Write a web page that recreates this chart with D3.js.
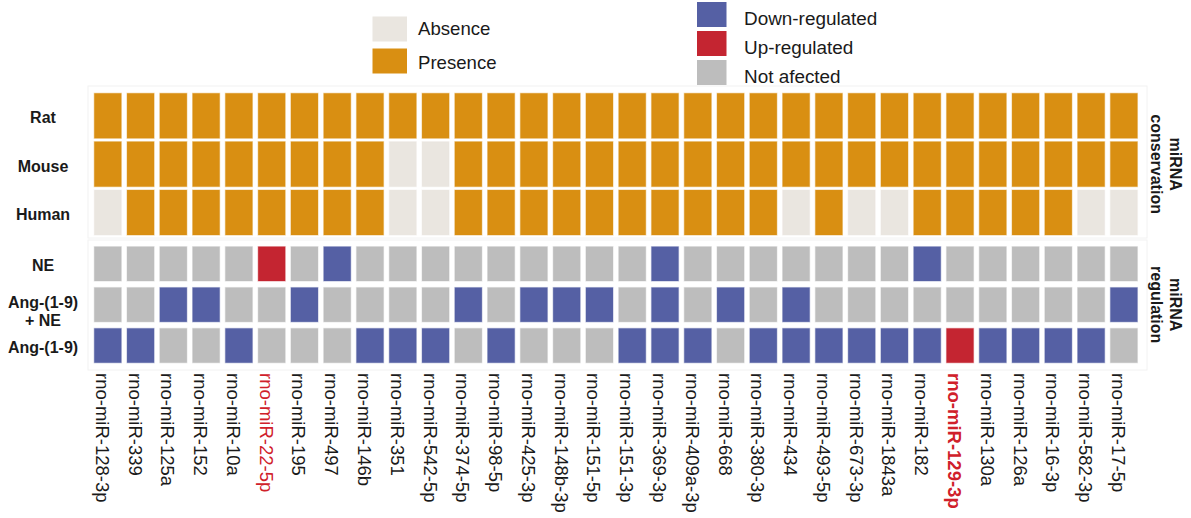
<!DOCTYPE html>
<html>
<head>
<meta charset="utf-8">
<script src="https://cdn.jsdelivr.net/npm/d3@7/dist/d3.min.js"></script>
<style>
  html, body { margin: 0; padding: 0; background: #fff; }
  svg { display: block; font-family: "Liberation Sans", Arial, sans-serif; }
</style>
</head>
<body>
<svg id="chart" width="1191" height="518"></svg>
<script>
// miRNAs shown as columns
const miRNAs = [
  "rno-miR-128-3p", "rno-miR-339", "rno-miR-125a", "rno-miR-152", "rno-miR-10a",
  "rno-miR-22-5p", "rno-miR-195", "rno-miR-497", "rno-miR-146b", "rno-miR-351",
  "rno-miR-542-5p", "rno-miR-374-5p", "rno-miR-98-5p", "rno-miR-425-3p", "rno-miR-148b-3p",
  "rno-miR-151-5p", "rno-miR-151-3p", "rno-miR-369-3p", "rno-miR-409a-3p", "rno-miR-668",
  "rno-miR-380-3p", "rno-miR-434", "rno-miR-493-5p", "rno-miR-673-3p", "rno-miR-1843a",
  "rno-miR-182", "rno-miR-129-3p", "rno-miR-130a", "rno-miR-126a", "rno-miR-16-3p",
  "rno-miR-582-3p", "rno-miR-17-5p"
];
const redLabels = ["rno-miR-22-5p", "rno-miR-129-3p"];
const boldLabels = ["rno-miR-129-3p"];

// Conservation: 1 = presence, 0 = absence
const species = ["Rat", "Mouse", "Human"];
const rat   = [1,1,1,1,1,1,1,1,1,1,1,1,1,1,1,1,1,1,1,1,1,1,1,1,1,1,1,1,1,1,1,1];
const mouse = [1,1,1,1,1,1,1,1,1,0,0,1,1,1,1,1,1,1,1,1,1,1,1,1,1,1,1,1,1,1,1,1];
const human = [0,1,1,1,1,1,1,1,1,0,0,1,1,1,1,1,1,1,1,1,1,0,1,0,0,1,1,1,1,1,0,0];

// Regulation: D = down-regulated, U = up-regulated, N = not affected
const treatments = ["NE", "Ang-(1-9) + NE", "Ang-(1-9)"];
const ne    = ["N","N","N","N","N","U","N","D","N","N","N","N","N","N","N","N","N","D","N","N","N","N","N","N","N","D","N","N","N","N","N","N"];
const angNe = ["N","N","D","D","N","N","D","N","N","N","N","D","N","D","D","D","N","D","N","D","N","D","N","N","N","N","N","N","N","N","N","D"];
const ang   = ["D","D","N","N","D","N","N","N","D","D","D","N","D","N","N","N","D","D","D","N","D","D","D","D","D","D","U","D","D","D","D","N"];

const conservationKeys = [0, 1];
const conservationNames = ["Absence", "Presence"];
const regulationKeys = ["D", "U", "N"];
const regulationNames = ["Down-regulated", "Up-regulated", "Not afected"];

const conservationColor = d3.scaleOrdinal().domain(conservationKeys).range(["#EAE6E0", "#D98F12"]);
const regulationColor = d3.scaleOrdinal().domain(regulationKeys).range(["#5560A4", "#C42531", "#BDBDBD"]);

const svg = d3.select("#chart");

const x = d3.scaleBand().domain(miRNAs).range([91.4, 1140.3]).paddingInner(0.175).paddingOuter(0.0875);
const yCons = d3.scaleBand().domain(species).range([91.6, 236.7]).paddingInner(0.07).paddingOuter(0.035);
const yReg = d3.scaleBand().domain(treatments).range([243.4, 366]).paddingInner(0.16).paddingOuter(0.08);

// faint panel frames
svg.append("rect").attr("x", 88).attr("y", 86).attr("width", 1059).attr("height", 152)
  .attr("fill", "none").attr("stroke", "#f2f2f2");
svg.append("rect").attr("x", 88).attr("y", 240).attr("width", 1059).attr("height", 130)
  .attr("fill", "none").attr("stroke", "#f2f2f2");

// conservation cells
const consRows = [rat, mouse, human];
const consData = [];
species.forEach((s, i) => consRows[i].forEach((v, j) => consData.push({ row: s, col: miRNAs[j], v })));
svg.append("g").selectAll("rect").data(consData).join("rect")
  .attr("x", d => x(d.col)).attr("y", d => yCons(d.row))
  .attr("width", x.bandwidth()).attr("height", yCons.bandwidth())
  .attr("fill", d => conservationColor(d.v))
  .attr("stroke", d => conservationColor(d.v)).attr("stroke-opacity", 0.35).attr("stroke-width", 1.2);

// regulation cells
const regRows = [ne, angNe, ang];
const regData = [];
treatments.forEach((t, i) => regRows[i].forEach((v, j) => regData.push({ row: t, col: miRNAs[j], v })));
svg.append("g").selectAll("rect").data(regData).join("rect")
  .attr("x", d => x(d.col)).attr("y", d => yReg(d.row))
  .attr("width", x.bandwidth()).attr("height", yReg.bandwidth())
  .attr("fill", d => regulationColor(d.v))
  .attr("stroke", d => regulationColor(d.v)).attr("stroke-opacity", 0.35).attr("stroke-width", 1.2);

// row labels
const rowLabel = svg.append("g").attr("font-weight", "bold").attr("font-size", 16)
  .attr("fill", "#1a1a1a").attr("text-anchor", "middle");
species.forEach(s => {
  rowLabel.append("text").attr("x", 43).attr("y", yCons(s) + yCons.bandwidth() / 2 + 2)
    .attr("dy", "0.35em").text(s);
});
treatments.forEach(t => {
  const cy = yReg(t) + yReg.bandwidth() / 2;
  const parts = t === "Ang-(1-9) + NE" ? ["Ang-(1-9)", "+ NE"] : [t];
  const t0 = cy - (parts.length - 1) * 9 + 2 + (parts.length > 1 ? 5 : 0);
  parts.forEach((p, k) => {
    rowLabel.append("text").attr("x", 43).attr("y", t0 + k * 18).attr("dy", "0.35em").text(p);
  });
});

// column labels, rotated
svg.append("g").selectAll("text").data(miRNAs).join("text")
  .attr("transform", d => `translate(${x(d) + x.bandwidth() / 2 - 12},373) rotate(90)`)
  .attr("font-size", 18.5)
  .attr("font-weight", d => boldLabels.includes(d) ? "bold" : "normal")
  .attr("fill", d => redLabels.includes(d) ? "#D0202A" : "#1a1a1a")
  .text(d => d);

// group titles on the right
function sideTitle(lines, cy) {
  const g = svg.append("g").attr("transform", `translate(1170,${cy}) rotate(90)`)
    .attr("font-weight", "bold").attr("font-size", 16).attr("fill", "#1a1a1a")
    .attr("text-anchor", "middle");
  lines.forEach((l, k) => g.append("text").attr("x", 0).attr("y", k * 19).text(l));
}
sideTitle(["miRNA", "conservation"], (yCons.range()[0] + yCons.range()[1]) / 2);
sideTitle(["miRNA", "regulation"], (yReg.range()[0] + yReg.range()[1]) / 2);

// conservation legend
const legA = svg.append("g");
conservationKeys.forEach((k, i) => {
  const ty = 16.5 + i * 32;
  legA.append("rect").attr("x", 372.5).attr("y", ty).attr("width", 34.5).attr("height", 25)
    .attr("fill", conservationColor(k));
  legA.append("text").attr("x", 418).attr("y", ty + 18.7 + i * 2)
    .attr("font-size", 18.6).attr("fill", "#1a1a1a").text(conservationNames[i]);
});

// regulation legend
const legB = svg.append("g");
regulationKeys.forEach((k, i) => {
  const ty = 2 + i * 29;
  legB.append("rect").attr("x", 697).attr("y", ty).attr("width", 29.5).attr("height", 25)
    .attr("fill", regulationColor(k));
  legB.append("text").attr("x", 744).attr("y", ty + 23)
    .attr("font-size", 18.9).attr("fill", "#1a1a1a").text(regulationNames[i]);
});
</script>
</body>
</html>
